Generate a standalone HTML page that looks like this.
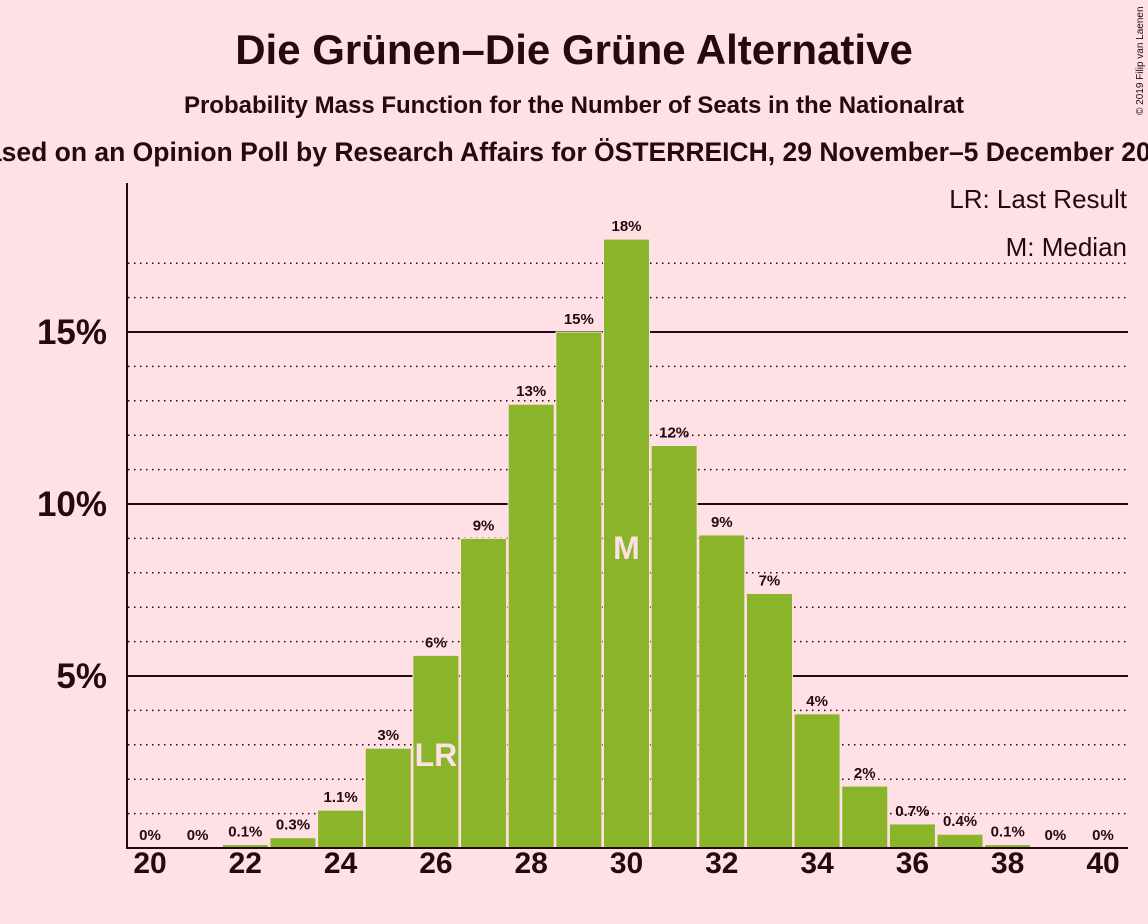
<!DOCTYPE html>
<html><head><meta charset="utf-8"><style>
body{margin:0;background:#FFE0E5;}
svg{display:block;font-family:"Liberation Sans",sans-serif;}
</style></head><body>
<svg id="chart" width="1148" height="924" viewBox="0 0 1148 924">
<rect width="1148" height="924" fill="#FFE0E5"/>
<text x="574" y="64" text-anchor="middle" font-size="42" font-weight="bold" fill="#220a0f">Die Grünen–Die Grüne Alternative</text>
<text x="574" y="113" text-anchor="middle" font-size="24" font-weight="bold" fill="#220a0f">Probability Mass Function for the Number of Seats in the Nationalrat</text>
<text x="574" y="161" text-anchor="middle" font-size="26.5" font-weight="bold" fill="#220a0f">Based on an Opinion Poll by Research Affairs for ÖSTERREICH, 29 November–5 December 2019</text>
<text transform="translate(1143,115) rotate(-90)" font-size="10" fill="#220a0f">© 2019 Filip van Laenen</text>
<g id="grid"></g>
<g id="bars"></g>
<g id="labels"></g>
<line x1="127" y1="183" x2="127" y2="849" stroke="#220a0f" stroke-width="2"/>
<line x1="126" y1="848" x2="1128" y2="848" stroke="#220a0f" stroke-width="2"/>
<text x="1127" y="208" text-anchor="end" font-size="26" fill="#220a0f">LR: Last Result</text>
<text x="1127" y="256" text-anchor="end" font-size="26" fill="#220a0f">M: Median</text>
</svg>
<script>
const seats=[20,21,22,23,24,25,26,27,28,29,30,31,32,33,34,35,36,37,38,39,40];
const probs=[0,0,0.1,0.3,1.1,2.9,5.6,9.0,12.9,15.0,17.7,11.7,9.1,7.4,3.9,1.8,0.7,0.4,0.1,0,0];
const valueLabels=["0%","0%","0.1%","0.3%","1.1%","3%","6%","9%","13%","15%","18%","12%","9%","7%","4%","2%","0.7%","0.4%","0.1%","0%","0%"];
const yTicks=[5,10,15];
const yTickLabels=["5%","10%","15%"];
const lastResult=26;
const median=30;
const NS="http://www.w3.org/2000/svg";
const x=s=>150+(s-20)*47.65;
const y=v=>848-v*34.4;
function mk(tag,attrs,parent){const e=document.createElementNS(NS,tag);for(const k in attrs)e.setAttribute(k,attrs[k]);parent.appendChild(e);return e;}
const grid=document.getElementById('grid'),bars=document.getElementById('bars'),labels=document.getElementById('labels');
for(let p=1;p<=17;p++){
  const major=yTicks.includes(p);
  const l=mk('line',{x1:128,x2:1128,y1:y(p),y2:y(p),stroke:'#220a0f','stroke-width':major?2:1.5,'stroke-dasharray':major?'none':'1.5 4.5'},grid);
  
  
}
yTicks.forEach((t,i)=>{
  const tx=mk('text',{x:107,y:y(t)+12,'text-anchor':'end','font-size':35,'font-weight':'bold',fill:'#220a0f'},labels);
  tx.textContent=yTickLabels[i];
  
  
});
seats.forEach((s,i)=>{
  const v=probs[i];
  if(v>0){
    const r=mk('rect',{x:x(s)-23,y:y(v),width:46,height:848-y(v),fill:'#8AB52B',stroke:'#FFE0E5','stroke-width':1},bars);
    
    
  }
  const t=mk('text',{x:x(s),y:y(v)-8,'text-anchor':'middle','font-size':15,'font-weight':'bold',fill:'#220a0f'},labels);
  t.textContent=valueLabels[i];
  
  
  if(s%2===0){
    const xt=mk('text',{x:x(s),y:873,'text-anchor':'middle','font-size':30,'font-weight':'bold',fill:'#220a0f'},labels);
    xt.textContent=s;
    
    
  }
  if(s===lastResult||s===median){
    const m=mk('text',{x:x(s),y:s===lastResult?766:559,'text-anchor':'middle','font-size':32,'font-weight':'bold',fill:'#FFE0E5'},labels);
    m.textContent=s===lastResult?'LR':'M';
    
    
  }
});
</script>
</body></html>
